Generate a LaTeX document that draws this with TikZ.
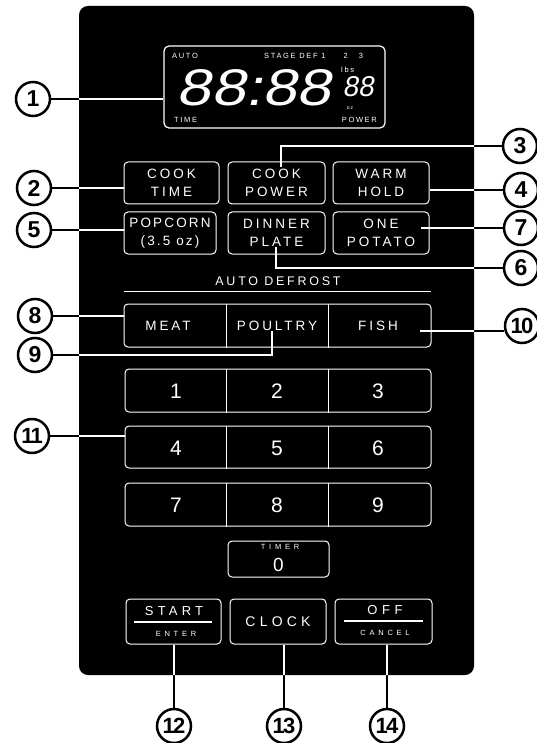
\documentclass[tikz,border=0pt]{standalone}
\usepackage{fontspec}
\setmainfont{Liberation Sans}
\newfontfamily\btnf[LetterSpace=22]{Liberation Sans}
\newfontfamily\popf[LetterSpace=16]{Liberation Sans}
\newfontfamily\tinyf[LetterSpace=22]{Liberation Sans}
\newfontfamily\widef[LetterSpace=50]{Liberation Sans}
\newfontfamily\lcdf[FakeSlant=0.18]{Liberation Sans}
\pgfdeclarelayer{panel}
\pgfdeclarelayer{lead}
\pgfsetlayers{panel,lead,main}
\newcommand\myleads[1]{%
  \draw[#1] (c1.east) -- (c1.east -| disp.west);
  \draw[#1] (c2.east) -- (c2.east -| ct.west);
  \draw[#1] (c5.east) -- (c5.east -| pop.west);
  \draw[#1] (c3.west) -| (p3);
  \draw[#1] (c4.west) -- (c4.west -| wh.east);
  \draw[#1] (p7) -- (p7 -| c7.west);
  \draw[#1] (c6.west) -| (p6);
  \draw[#1] (c8.east) -- (c8.east -| def.west);
  \draw[#1] (c9.east) -| (p9);
  \draw[#1] (p10) -- (p10 -| c10.west);
  \draw[#1] (c11.east) -- (c11.east -| rtwo.west);
  \draw[#1] (c12.north) -- (c12.north |- bstart.south);
  \draw[#1] (c13.north) -- (c13.north |- bclock.south);
  \draw[#1] (c14.north) -- (c14.north |- boff.south);
}
\begin{document}
\begin{tikzpicture}[x=1pt,y=-1pt,
  key/.style={draw=white, line width=1pt, rounded corners=4pt, inner sep=0pt, text=white,
    align=center, font=\btnf\fontsize{13.5}{18}\selectfont},
  lbl/.style={text=white, inner sep=0pt, align=center, font=\btnf\fontsize{13.5}{18}\selectfont},
  digit/.style={text=white, inner sep=0pt, font=\fontsize{21}{21}\selectfont},
  tinylbl/.style={text=white, inner sep=0pt, font=\tinyf\fontsize{7.5}{8}\selectfont},
  widelbl/.style={text=white, inner sep=0pt, font=\widef\fontsize{7.5}{8}\selectfont},
  call/.style={circle, draw=black, fill=white, line width=2.5pt, minimum size=34pt, inner sep=0pt,
    font=\bfseries\fontsize{23}{23}\selectfont},
  call2/.style={call, font=\bfseries\fontsize{22}{22}\selectfont\addfontfeatures{LetterSpace=-8}},
  divider/.style={white, line width=1pt},
  outlead/.style={black, line width=2.2pt},
  inlead/.style={white, line width=1.4pt}]
\useasboundingbox (0,0) rectangle (537,743);
\begin{pgfonlayer}{panel}
\fill[black, rounded corners=9pt] (79,6) rectangle (474,675);
\end{pgfonlayer}

% display
\node[draw=white, line width=1.2pt, rounded corners=5pt, minimum width=221pt, minimum height=82pt] (disp) at (274.5,87) {};
\node[tinylbl, anchor=west] (tauto) at (172,56) {AUTO};
\node[tinylbl, anchor=west] (tstage) at (264,56) {STAGE DEF 1\hspace{18pt}2\hspace{11pt}3};
\node[tinylbl, anchor=west] (tlbs) at (341,70) {lbs};
\node[tinylbl, font=\tinyf\fontsize{5}{5}\selectfont] (toz) at (350,108) {oz};
\node[tinylbl, anchor=west] (ttime) at (174,120) {TIME};
\node[tinylbl, anchor=east] (tpower) at (377,120) {POWER};
\node[text=white, inner sep=0pt] (dig) at (254,88) {\resizebox{154pt}{36pt}{\lcdf 88:88}};
\node[text=white, inner sep=0pt] (sdig) at (358,87) {\resizebox{31pt}{20pt}{\lcdf 88}};

% row 1 and 2
\node[key, minimum width=95pt, minimum height=42pt] (ct) at (171.5,183) {COOK\\TIME};
\node[key, minimum width=97pt, minimum height=42pt] (cp) at (276.5,183) {COOK\\POWER};
\node[key, minimum width=96pt, minimum height=42pt] (wh) at (381,183) {WARM\\HOLD};
\node[key, minimum width=92pt, minimum height=42pt, font=\popf\fontsize{13.5}{18}\selectfont] (pop) at (170,233) {POPCORN\\(3.5 oz)};
\node[key, minimum width=97pt, minimum height=42pt] (dp) at (276.5,233) {DINNER\\PLATE};
\node[key, minimum width=96pt, minimum height=42pt] (op) at (381,233) {ONE\\POTATO};

% auto defrost
\node[lbl, font=\btnf\fontsize{12.5}{14}\selectfont] (tad) at (278,281) {AUTO DEFROST};
\draw[divider] (124,291) -- (431,291);
\node[key, minimum width=307pt, minimum height=43pt] (def) at (277.5,325.5) {};
\draw[divider] (226,0 |- def.north) -- (226,0 |- def.south);
\draw[divider] (328,0 |- def.north) -- (328,0 |- def.south);
\node[lbl] (tmeat) at (168,326) {MEAT};
\node[lbl] (tpoul) at (277,326) {POULTRY};
\node[lbl] (tfish) at (378,326) {FISH};

% number pad
\node[key, minimum width=306pt, minimum height=43pt] (rone) at (278,390.5) {};
\node[key, minimum width=306pt, minimum height=42pt] (rtwo) at (278,447) {};
\node[key, minimum width=306pt, minimum height=43pt] (rthree) at (278,504.5) {};
\foreach \r in {rone,rtwo,rthree}{
  \draw[divider] (226,0 |- \r.north) -- (226,0 |- \r.south);
  \draw[divider] (328,0 |- \r.north) -- (328,0 |- \r.south);
}
\node[digit] (k1) at (176,391) {1};
\node[digit] (k2) at (277,391) {2};
\node[digit] (k3) at (378,391) {3};
\node[digit] (k4) at (176,448) {4};
\node[digit] (k5) at (277,448) {5};
\node[digit] (k6) at (378,448) {6};
\node[digit] (k7) at (176,505) {7};
\node[digit] (k8) at (277,505) {8};
\node[digit] (k9) at (378,505) {9};
\node[key, minimum width=101pt, minimum height=36pt] (zero) at (278.5,559) {};
\node[widelbl] (ttimer) at (280,547) {TIMER};
\node[digit, font=\fontsize{19}{19}\selectfont] (k0) at (278.5,565) {0};

% bottom row
\node[key, minimum width=95pt, minimum height=45pt] (bstart) at (173.5,621.5) {};
\node[lbl, font=\btnf\fontsize{13}{14}\selectfont\addfontfeatures{LetterSpace=32}] (tstart) at (174,611) {START};
\draw[white, line width=1.8pt] (134,622) -- (212,622);
\node[widelbl] (tenter) at (176,634) {ENTER};
\node[key, minimum width=96pt, minimum height=45pt, font=\btnf\fontsize{14}{14}\selectfont\addfontfeatures{LetterSpace=30}] (bclock) at (278,621.5) {CLOCK};
\node[key, minimum width=97pt, minimum height=45pt] (boff) at (383.5,621.5) {};
\node[lbl, font=\btnf\fontsize{13}{14}\selectfont\addfontfeatures{LetterSpace=35}] (toff) at (385,610) {OFF};
\draw[white, line width=1.8pt] (344,621) -- (423,621);
\node[widelbl] (tcancel) at (385,633) {CANCEL};

% callouts
\node[call] (c1) at (33,99) {1};
\node[call] (c2) at (34,188) {2};
\node[call] (c5) at (34,230) {5};
\node[call] (c3) at (520,146) {3};
\node[call] (c4) at (521,190) {4};
\node[call] (c7) at (521,228) {7};
\node[call] (c6) at (521,268) {6};
\node[call] (c8) at (35,316) {8};
\node[call] (c9) at (35,355) {9};
\node[call2] (c10) at (522,326) {10};
\node[call2] (c11) at (32,436) {11};
\node[call2] (c12) at (174,726) {12};
\node[call2] (c13) at (284,726) {13};
\node[call2] (c14) at (387,726) {14};

\coordinate (p3) at (281,167);
\coordinate (p6) at (276,247);
\coordinate (p7) at (421,228);
\coordinate (p9) at (272,331);
\coordinate (p10) at (420,331);

\begin{pgfonlayer}{lead}
  \myleads{outlead}
  \begin{scope}
    \clip[rounded corners=9pt] (79,6) rectangle (474,675);
    \myleads{inlead}
  \end{scope}
\end{pgfonlayer}
\end{tikzpicture}
\end{document}
